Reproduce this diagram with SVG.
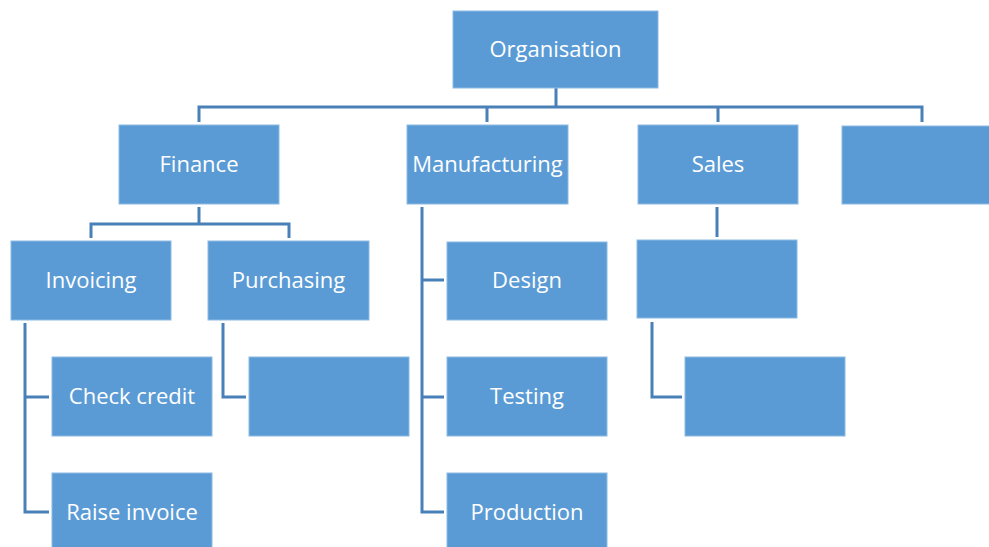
<svg xmlns="http://www.w3.org/2000/svg" width="989" height="547" viewBox="0 0 989 547">
<style>
.box{fill:#5B9BD5;stroke:#8DB9E3;stroke-width:1}
.lbl{fill:#FFFFFF;font-family:"Open Sans","Liberation Sans",sans-serif;font-size:22px;text-anchor:middle}
.con{fill:none;stroke:#4A80B8;stroke-width:3}
</style>
<rect width="989" height="547" fill="#FFFFFF"/>
<g id="connectors">
<path class="con" d="M556 88V107M199 122V107H922V122M487 107V122M718 107V122"/>
<path class="con" d="M199 207V224M91 238V224H289V238"/>
<path class="con" d="M25 323V512H49M25 397H49"/>
<path class="con" d="M223 323V397H246"/>
<path class="con" d="M422 207V512H444M422 280H444M422 397H444"/>
<path class="con" d="M717 207V237"/>
<path class="con" d="M652 322V397H682"/>
</g>
<g id="organisation"><rect class="box" x="453" y="11" width="205" height="77"/><text class="lbl" x="555.5" y="57">Organisation</text></g>
<g id="finance"><rect class="box" x="119" y="125" width="160" height="79"/><text class="lbl" x="199" y="172">Finance</text></g>
<g id="manufacturing"><rect class="box" x="407" y="125" width="161" height="79"/><text class="lbl" x="487.5" y="172">Manufacturing</text></g>
<g id="sales"><rect class="box" x="638" y="125" width="160" height="79"/><text class="lbl" x="718" y="172">Sales</text></g>
<g id="blank-top"><rect class="box" x="842" y="126" width="160" height="78"/></g>
<g id="invoicing"><rect class="box" x="11" y="241" width="160" height="79"/><text class="lbl" x="91" y="288">Invoicing</text></g>
<g id="purchasing"><rect class="box" x="208" y="241" width="161" height="79"/><text class="lbl" x="288.5" y="288">Purchasing</text></g>
<g id="check-credit"><rect class="box" x="52" y="357" width="160" height="79"/><text class="lbl" x="132" y="404">Check credit</text></g>
<g id="raise-invoice"><rect class="box" x="52" y="473" width="160" height="79"/><text class="lbl" x="132" y="520">Raise invoice</text></g>
<g id="blank-purchasing"><rect class="box" x="249" y="357" width="160" height="79"/></g>
<g id="design"><rect class="box" x="447" y="242" width="160" height="78"/><text class="lbl" x="527" y="288">Design</text></g>
<g id="testing"><rect class="box" x="447" y="357" width="160" height="79"/><text class="lbl" x="527" y="404">Testing</text></g>
<g id="production"><rect class="box" x="447" y="473" width="160" height="79"/><text class="lbl" x="527" y="520">Production</text></g>
<g id="blank-sales"><rect class="box" x="637" y="240" width="160" height="78"/></g>
<g id="blank-sales-child"><rect class="box" x="685" y="357" width="160" height="79"/></g>
</svg>
